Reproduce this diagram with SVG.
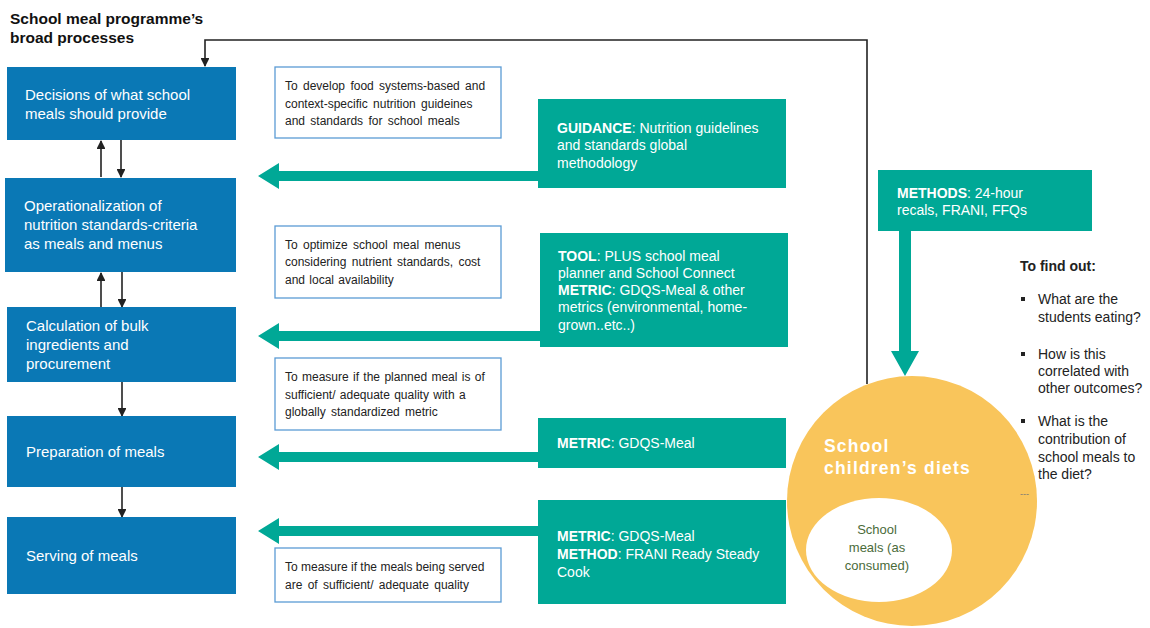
<svg xmlns="http://www.w3.org/2000/svg" width="1150" height="628" viewBox="0 0 1150 628">
<defs>
<style>
.proc{fill:#0a78b5}
.ptxt{font-family:"Liberation Sans",Arial,sans-serif;font-size:15px;fill:#ffffff}
.wbox{fill:#ffffff;stroke:#5b9bd5;stroke-width:1.3}
.wtxt{font-family:"Liberation Sans",Arial,sans-serif;font-size:12px;fill:#222222}
.tbox{fill:#00a896}
.ttxt{font-family:"Liberation Sans",Arial,sans-serif;font-size:14px;fill:#ffffff}
.b{font-weight:bold}
.conn{stroke:#222222;stroke-width:1.6;fill:none}
.tarrow{fill:#00a896}
.rtxt{font-family:"Liberation Sans",Arial,sans-serif;font-size:14px;fill:#222222}
</style>
<marker id="ah" viewBox="0 0 10 10" refX="9" refY="5" markerWidth="5.5" markerHeight="5.5" orient="auto">
<path d="M0,0 L10,5 L0,10 z" fill="#222222"/>
</marker>
</defs>
<rect width="1150" height="628" fill="#ffffff"/>

<g id="title">
<text x="10" y="24" font-family="Liberation Sans, Arial, sans-serif" font-size="15.5" font-weight="bold" fill="#111111">School meal programme’s</text>
<text x="10" y="43" font-family="Liberation Sans, Arial, sans-serif" font-size="15.5" font-weight="bold" fill="#111111">broad processes</text>
</g>

<g id="connectors">
<path class="conn" d="M867,384 V40 H205 V66" marker-end="url(#ah)"/>
<line class="conn" x1="101" y1="177" x2="101" y2="141" marker-end="url(#ah)"/>
<line class="conn" x1="121" y1="140" x2="121" y2="177" marker-end="url(#ah)"/>
<line class="conn" x1="101" y1="307" x2="101" y2="273" marker-end="url(#ah)"/>
<line class="conn" x1="122" y1="272" x2="122" y2="307" marker-end="url(#ah)"/>
<line class="conn" x1="122" y1="382" x2="122" y2="416" marker-end="url(#ah)"/>
<line class="conn" x1="122" y1="487" x2="122" y2="517" marker-end="url(#ah)"/>
<polygon class="tarrow" points="538,171 279,171 279,163 258,176 279,189 279,181 538,181"/>
<polygon class="tarrow" points="540,331 279,331 279,323 258,336 279,349 279,341 540,341"/>
<polygon class="tarrow" points="538,452 279,452 279,444 258,457 279,470 279,462 538,462"/>
<polygon class="tarrow" points="538,526 279,526 279,518 258,531 279,544 279,536 538,536"/>
<polygon class="tarrow" points="899,231 899,351 891,351 905,376 919,351 911,351 911,231"/>
</g>

<g id="proc1">
<rect class="proc" x="7" y="67" width="229" height="73"/>
<text class="ptxt" x="25" y="100">Decisions of what school</text>
<text class="ptxt" x="25" y="119">meals should provide</text>
</g>
<g id="proc2">
<rect class="proc" x="5" y="178" width="231" height="94"/>
<text class="ptxt" x="24" y="211">Operationalization of</text>
<text class="ptxt" x="24" y="230">nutrition standards-criteria</text>
<text class="ptxt" x="24" y="249">as meals and menus</text>
</g>
<g id="proc3">
<rect class="proc" x="7" y="307" width="229" height="75"/>
<text class="ptxt" x="26" y="331">Calculation of bulk</text>
<text class="ptxt" x="26" y="350">ingredients and</text>
<text class="ptxt" x="26" y="369">procurement</text>
</g>
<g id="proc4">
<rect class="proc" x="7" y="416" width="229" height="71"/>
<text class="ptxt" x="26" y="457">Preparation of meals</text>
</g>
<g id="proc5">
<rect class="proc" x="7" y="517" width="229" height="77"/>
<text class="ptxt" x="26" y="561">Serving of meals</text>
</g>

<g id="note1">
<rect class="wbox" x="275" y="67" width="226" height="71"/>
<text class="wtxt" x="285" y="90" word-spacing="2">To develop food systems-based and</text>
<text class="wtxt" x="285" y="108" word-spacing="2">context-specific nutrition guideines</text>
<text class="wtxt" x="285" y="125" word-spacing="2">and standards for school meals</text>
</g>
<g id="note2">
<rect class="wbox" x="275" y="226" width="226" height="72"/>
<text class="wtxt" x="285" y="249" word-spacing="2">To optimize school meal menus</text>
<text class="wtxt" x="285" y="266" word-spacing="2">considering nutrient standards, cost</text>
<text class="wtxt" x="285" y="284" word-spacing="1">and local availability</text>
</g>
<g id="note3">
<rect class="wbox" x="275" y="358" width="226" height="72"/>
<text class="wtxt" x="285" y="381" word-spacing="1">To measure if the planned meal is of</text>
<text class="wtxt" x="285" y="399" word-spacing="1">sufficient/ adequate quality with a</text>
<text class="wtxt" x="285" y="416" word-spacing="2">globally standardized metric</text>
</g>
<g id="note4">
<rect class="wbox" x="275" y="548" width="226" height="54"/>
<text class="wtxt" x="285" y="571">To measure if the meals being served</text>
<text class="wtxt" x="285" y="589" word-spacing="2">are of sufficient/ adequate quality</text>
</g>

<g id="tool1">
<rect class="tbox" x="538" y="99" width="248" height="89"/>
<text class="ttxt" x="557" y="133"><tspan class="b">GUIDANCE</tspan>: Nutrition guidelines</text>
<text class="ttxt" x="557" y="150">and standards global</text>
<text class="ttxt" x="557" y="168">methodology</text>
</g>
<g id="tool2">
<rect class="tbox" x="540" y="233" width="248" height="114"/>
<text class="ttxt" x="558" y="261"><tspan class="b">TOOL</tspan>: PLUS school meal</text>
<text class="ttxt" x="558" y="278">planner and School Connect</text>
<text class="ttxt" x="558" y="295"><tspan class="b">METRIC</tspan>: GDQS-Meal &amp; other</text>
<text class="ttxt" x="558" y="312">metrics (environmental, home-</text>
<text class="ttxt" x="558" y="330">grown..etc..)</text>
</g>
<g id="tool3">
<rect class="tbox" x="538" y="418" width="248" height="50"/>
<text class="ttxt" x="557" y="448"><tspan class="b">METRIC</tspan>: GDQS-Meal</text>
</g>
<g id="tool4">
<rect class="tbox" x="538" y="500" width="248" height="104"/>
<text class="ttxt" x="557" y="541"><tspan class="b">METRIC</tspan>: GDQS-Meal</text>
<text class="ttxt" x="557" y="559"><tspan class="b">METHOD</tspan>: FRANI Ready Steady</text>
<text class="ttxt" x="557" y="577">Cook</text>
</g>
<g id="methods">
<rect class="tbox" x="878" y="170" width="214" height="61"/>
<text class="ttxt" x="897" y="198"><tspan class="b">METHODS</tspan>: 24-hour</text>
<text class="ttxt" x="897" y="215">recals, FRANI, FFQs</text>
</g>

<g id="diets">
<circle cx="912" cy="501" r="125" fill="#f9c55b"/>
<text x="824" y="452" font-family="Liberation Sans, Arial, sans-serif" font-size="17.5" font-weight="bold" fill="#ffffff" letter-spacing="1.2">School</text>
<text x="824" y="474" font-family="Liberation Sans, Arial, sans-serif" font-size="17.5" font-weight="bold" fill="#ffffff" letter-spacing="1.2">children’s diets</text>
</g>
<g id="schoolmeals">
<ellipse cx="879" cy="550" rx="73" ry="52" fill="#ffffff"/>
<text x="877" y="534" text-anchor="middle" font-family="Liberation Sans, Arial, sans-serif" font-size="13" fill="#4a6b3a">School</text>
<text x="877" y="552" text-anchor="middle" font-family="Liberation Sans, Arial, sans-serif" font-size="13" fill="#4a6b3a">meals (as</text>
<text x="877" y="570" text-anchor="middle" font-family="Liberation Sans, Arial, sans-serif" font-size="13" fill="#4a6b3a">consumed)</text>
</g>

<g id="findout">
<text class="rtxt b" x="1020" y="271">To find out:</text>
<rect x="1021" y="297" width="4" height="4" fill="#222222"/>
<text class="rtxt" x="1038" y="304">What are the</text>
<text class="rtxt" x="1038" y="322">students eating?</text>
<rect x="1021" y="352" width="4" height="4" fill="#222222"/>
<text class="rtxt" x="1038" y="359">How is this</text>
<text class="rtxt" x="1038" y="376">correlated with</text>
<text class="rtxt" x="1038" y="393">other outcomes?</text>
<rect x="1021" y="419" width="4" height="4" fill="#222222"/>
<text class="rtxt" x="1038" y="426">What is the</text>
<text class="rtxt" x="1038" y="444">contribution of</text>
<text class="rtxt" x="1038" y="462">school meals to</text>
<text class="rtxt" x="1038" y="479">the diet?</text>
<text x="1020" y="497" font-family="Liberation Sans, Arial, sans-serif" font-size="9" fill="#777777">---</text>
</g>
</svg>
